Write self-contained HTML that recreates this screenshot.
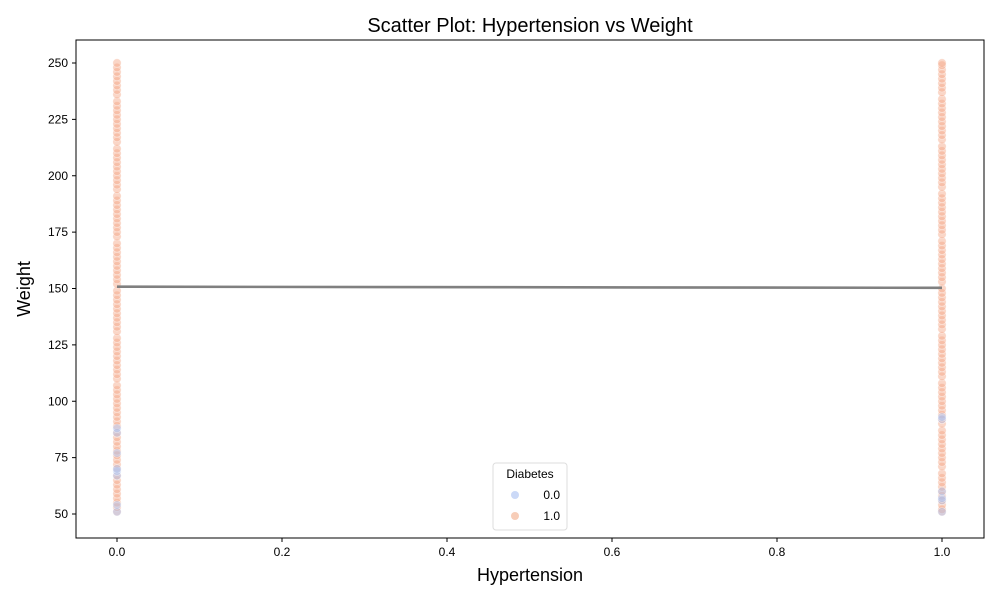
<!DOCTYPE html>
<html><head><meta charset="utf-8"><style>body{margin:0;background:#fff}svg{font-family:"Liberation Sans","DejaVu Sans",sans-serif}</style></head>
<body>
<svg id="c" width="1000" height="600" xmlns="http://www.w3.org/2000/svg">
<rect width="1000" height="600" fill="#fff"/>
<text x="530" y="32" font-size="20" text-anchor="middle">Scatter Plot: Hypertension vs Weight</text>
<text x="530" y="581" font-size="18" text-anchor="middle">Hypertension</text>
<text x="30" y="289" font-size="18" text-anchor="middle" transform="rotate(-90 30 289)">Weight</text>
<g id="ticks"></g><g id="pts"></g>
<rect x="76" y="40" width="908" height="498" fill="none" stroke="#000" stroke-width="1"/>
<g>
<rect x="493" y="463" width="74" height="67" rx="3" fill="#fff" fill-opacity="0.8" stroke="#ddd"/>
<text x="530" y="478" font-size="12" text-anchor="middle">Diabetes</text>
<g><circle cx="515" cy="495" r="4" fill="#cbd9f7"/><text x="560" y="499" font-size="12" text-anchor="end">0.0</text></g>
<g><circle cx="515" cy="516" r="4" fill="#f7cdb8"/><text x="560" y="520" font-size="12" text-anchor="end">1.0</text></g>
</g>
</svg>
<script>
const xTicks=[0,0.2,0.4,0.6,0.8,1.0];
const yTicks=[50,75,100,125,150,175,200,225,250];
const orange0=[51,53,55,57,59,61,63,65,67,70,72,74,76,78,80,82,84,86,89,91,93,95,97,99,101,103,105,107,110,112,114,116,118,120,122,124,126,128,131,133,135,137,139,141,143,145,147,149,152,154,156,158,160,162,164,166,168,170,173,175,177,179,181,183,185,187,189,191,194,196,198,200,202,204,206,208,210,212,215,217,219,221,223,225,227,229,231,233,236,238,240,242,244,246,248,250];
const blue0=[51,54,67,69,70,77,86,88];
const orange1=[51,52,54,56,58,60,62,64,66,68,71,73,75,77,79,81,83,85,87,90,92,94,96,98,100,102,104,106,108,111,113,115,117,119,121,123,125,127,129,132,134,136,138,140,142,144,146,148,150,153,155,157,159,161,163,165,167,169,171,174,176,178,180,182,184,186,188,190,192,195,197,199,201,203,205,207,209,211,213,216,218,220,222,224,226,228,230,232,234,237,239,241,243,245,247,249,250];
const blue1=[51,56,57,60,92,93];
const regX=[0,1];
const regY=[150.8,150.3];
const NS="http://www.w3.org/2000/svg";
const X=v=>117+v*825, Y=v=>514-(v-50)*2.255;
const tg=document.getElementById('ticks'), pg=document.getElementById('pts');
function mk(t,a,p){const e=document.createElementNS(NS,t);for(const k in a)e.setAttribute(k,a[k]);p.appendChild(e);return e;}
xTicks.forEach(v=>{
 const l=mk('line',{x1:X(v),x2:X(v),y1:538,y2:542,stroke:'#000'},tg);
 
 
 const t=mk('text',{x:X(v),y:556,'font-size':12,'text-anchor':'middle'},tg);t.textContent=v.toFixed(1);
 
 
});
yTicks.forEach(v=>{
 const l=mk('line',{x1:72,x2:76,y1:Y(v),y2:Y(v),stroke:'#000'},tg);
 
 
 const t=mk('text',{x:68,y:Y(v)+4,'font-size':12,'text-anchor':'end'},tg);t.textContent=v;
 
 
});
function pts(arr,x,col,name){arr.forEach(w=>{
 const c=mk('circle',{cx:X(x),cy:Y(w),r:4.2,fill:col,'fill-opacity':0.45,stroke:'#fff','stroke-width':0.6,'stroke-opacity':0.5},pg);
 
 
});}
pts(orange0,0,'#f4a582','point-diabetes-1');
pts(orange1,1,'#f4a582','point-diabetes-1');
pts(blue0,0,'#a9c1f2','point-diabetes-0');
pts(blue1,1,'#a9c1f2','point-diabetes-0');
const rl=mk('line',{x1:X(regX[0]),y1:Y(regY[0]),x2:X(regX[1]),y2:Y(regY[1]),stroke:'#808080','stroke-width':2.6},pg);


</script>
</body></html>
